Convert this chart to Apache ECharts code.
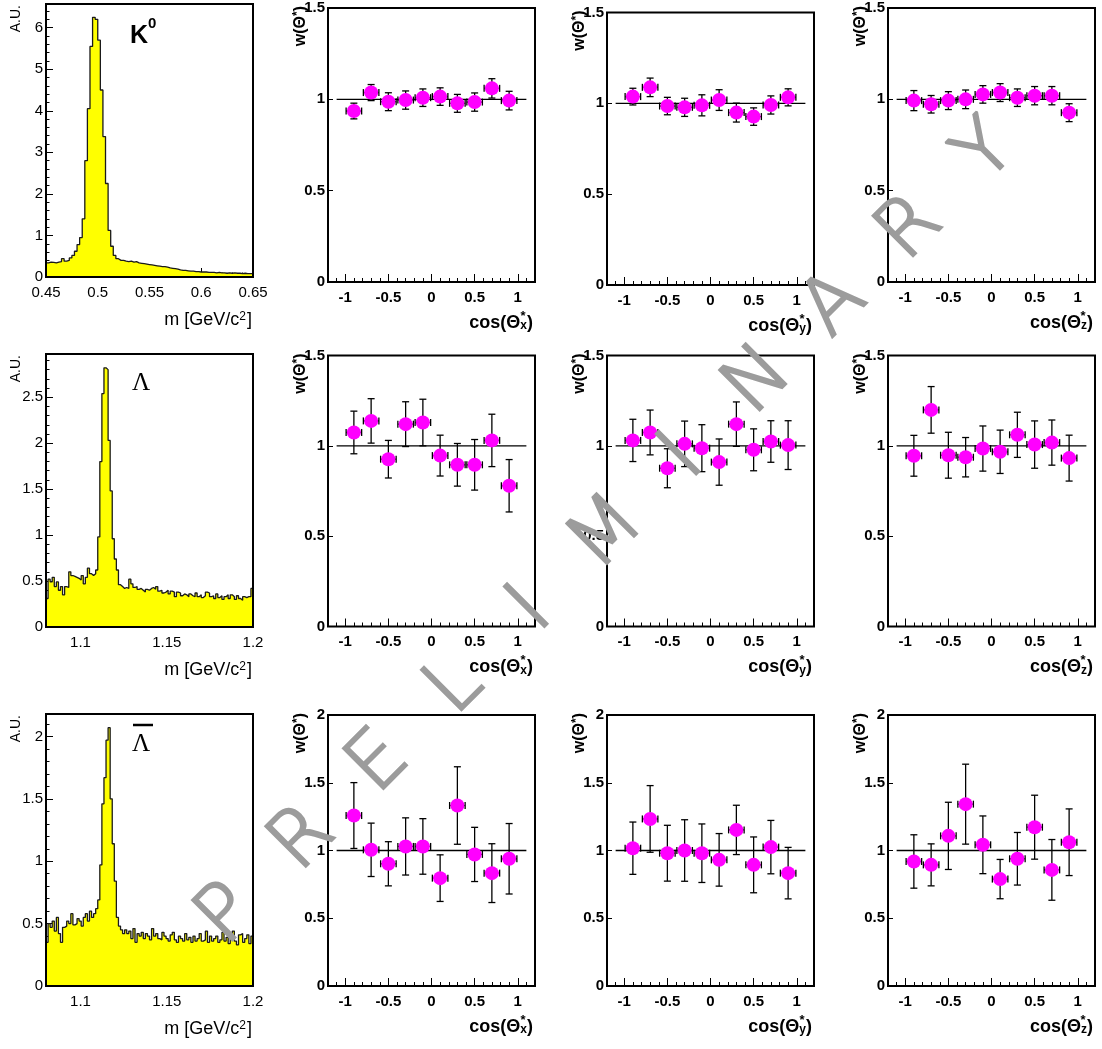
<!DOCTYPE html>
<html>
<head>
<meta charset="utf-8">
<script src="https://cdn.jsdelivr.net/npm/echarts@6/dist/echarts.min.js"></script>
<style>
  html, body { margin: 0; padding: 0; background: #fff; }
  #chart { width: 1102px; height: 1049px; }
</style>
</head>
<body>
<div id="chart"></div>
<script>
// ---------- invariant-mass spectra (arbitrary units per bin) ----------
const k0MassRange = [0.45, 0.65];
const lambdaMassRange = [1.08, 1.2];

const k0Counts = [
  0.34,0.36,0.35,0.34,0.36,0.37,0.44,0.38,0.40,0.46,
  0.52,0.62,0.78,0.95,1.40,2.80,4.05,5.55,6.25,6.20,
  5.70,4.50,3.38,2.25,1.12,0.74,0.52,0.44,0.40,0.40,
  0.38,0.37,0.38,0.36,0.37,0.34,0.33,0.32,0.31,0.30,
  0.29,0.28,0.27,0.26,0.25,0.25,0.24,0.22,0.21,0.20,
  0.19,0.17,0.16,0.16,0.15,0.14,0.14,0.13,0.13,0.12,
  0.12,0.12,0.11,0.11,0.11,0.10,0.11,0.10,0.10,0.09,
  0.10,0.09,0.10,0.09,0.09,0.08,0.09,0.08,0.08,0.08
];

const lambdaCounts = [
  0.31,0.52,0.49,0.54,0.44,0.49,0.40,0.44,0.35,0.44,
  0.43,0.60,0.56,0.55,0.54,0.53,0.51,0.56,0.47,0.54,
  0.64,0.58,0.56,0.58,0.62,0.98,1.80,2.54,2.82,2.80,
  2.03,1.48,0.96,0.74,0.62,0.46,0.44,0.42,0.43,0.42,
  0.52,0.47,0.43,0.44,0.41,0.42,0.40,0.38,0.41,0.40,
  0.42,0.43,0.41,0.44,0.39,0.40,0.37,0.38,0.40,0.36,
  0.39,0.38,0.33,0.38,0.37,0.34,0.36,0.35,0.33,0.36,
  0.34,0.33,0.37,0.33,0.35,0.32,0.34,0.38,0.37,0.33,
  0.34,0.31,0.36,0.32,0.34,0.30,0.33,0.35,0.31,0.35,
  0.33,0.30,0.34,0.31,0.29,0.33,0.32,0.33,0.33,0.42
];

const antiLambdaCounts = [
  0.35,0.50,0.47,0.52,0.44,0.55,0.42,0.35,0.47,0.48,
  0.52,0.50,0.58,0.49,0.50,0.54,0.52,0.48,0.55,0.58,
  0.52,0.60,0.55,0.58,0.62,0.69,0.97,1.46,1.67,1.97,
  2.07,1.50,1.14,0.84,0.55,0.48,0.45,0.42,0.45,0.42,
  0.44,0.38,0.46,0.35,0.42,0.40,0.43,0.38,0.42,0.40,
  0.37,0.46,0.40,0.42,0.38,0.37,0.43,0.40,0.38,0.36,
  0.41,0.43,0.37,0.35,0.40,0.38,0.36,0.42,0.37,0.39,
  0.35,0.40,0.36,0.38,0.42,0.36,0.37,0.44,0.35,0.40,
  0.36,0.38,0.40,0.35,0.37,0.43,0.36,0.39,0.34,0.40,
  0.44,0.36,0.33,0.41,0.42,0.35,0.38,0.41,0.34,0.40
];

// ---------- w(theta*) vs cos(theta*) : bin centres, values, errors ----------
const cosBinCenters = [-0.9,-0.7,-0.5,-0.3,-0.1,0.1,0.3,0.5,0.7,0.9];

const wK0x = [0.936,1.037,0.987,0.996,1.009,1.015,0.978,0.985,1.060,0.993];
const eK0x = [0.043,0.044,0.049,0.050,0.048,0.048,0.049,0.050,0.053,0.051];
const wK0y = [1.037,1.088,0.985,0.978,0.989,1.018,0.949,0.927,0.991,1.033];
const eK0y = [0.046,0.051,0.048,0.050,0.058,0.057,0.052,0.048,0.050,0.047];
const wK0z = [0.993,0.973,0.993,1.000,1.027,1.037,1.009,1.020,1.020,0.927];
const eK0z = [0.055,0.048,0.049,0.051,0.048,0.049,0.048,0.050,0.050,0.049];

const wLx = [1.074,1.138,0.926,1.120,1.129,0.946,0.895,0.895,1.030,0.779];
const eLx = [0.118,0.123,0.104,0.124,0.129,0.113,0.118,0.140,0.145,0.145];
const wLy = [1.030,1.074,0.876,1.011,0.987,0.910,1.120,0.978,1.024,1.004];
const eLy = [0.117,0.124,0.108,0.126,0.130,0.128,0.123,0.116,0.115,0.135];
const wLz = [0.945,1.199,0.948,0.937,0.985,0.967,1.061,1.007,1.018,0.932];
const eLz = [0.113,0.129,0.127,0.109,0.125,0.120,0.125,0.131,0.125,0.127];

const wAx = [1.258,1.005,0.902,1.030,1.030,0.796,1.332,0.971,0.833,0.939];
const eAx = [0.243,0.197,0.163,0.211,0.205,0.172,0.286,0.200,0.217,0.260];
const wAy = [1.017,1.233,0.980,1.000,0.980,0.931,1.152,0.894,1.025,0.833];
const eAy = [0.193,0.246,0.206,0.227,0.216,0.194,0.182,0.206,0.197,0.190];
const wAz = [0.919,0.894,1.108,1.342,1.042,0.789,0.939,1.172,0.857,1.061];
const eAz = [0.197,0.155,0.248,0.295,0.213,0.145,0.194,0.236,0.224,0.246];

// ---------- tick labels ----------
const cosTickLabels = [-1, -0.5, 0, 0.5, 1];
const wTickLabels = [0, 0.5, 1, 1.5];
const wTickLabelsWide = [0, 0.5, 1, 1.5, 2];
const k0MassTickLabels = [0.45, 0.5, 0.55, 0.6, 0.65];
const lambdaMassTickLabels = [1.1, 1.15, 1.2];
const k0YTickLabels = [0, 1, 2, 3, 4, 5, 6];
const lambdaYTickLabels = [0, 0.5, 1, 1.5, 2, 2.5];
const antiLambdaYTickLabels = [0, 0.5, 1, 1.5, 2];

// ---------- layout ----------
const FONT = "'Liberation Sans', Arial, Helvetica, sans-serif";
const frames = [
  [{l:46,t:4,w:207,h:273},   {l:328,t:8,w:207,h:274},     {l:607,t:12.5,w:207,h:272.5}, {l:888,t:8,w:207,h:274}],
  [{l:46,t:354,w:207,h:273}, {l:328,t:355.5,w:207,h:271}, {l:607,t:355.5,w:207,h:271},  {l:888,t:355.5,w:207,h:271}],
  [{l:46,t:714,w:207,h:272}, {l:328,t:715,w:207,h:271},   {l:607,t:715,w:207,h:271},    {l:888,t:715,w:207,h:271}]
];

const rows = [
  { counts: k0Counts, range: k0MassRange, massTicks: k0MassTickLabels, massMinor: 0.01,
    yMax: 6.57, yTicks: k0YTickLabels, yMinor: 0.2, wMax: 1.5, wTicks: wTickLabels,
    w: [[wK0x, eK0x], [wK0y, eK0y], [wK0z, eK0z]] },
  { counts: lambdaCounts, range: lambdaMassRange, massTicks: lambdaMassTickLabels, massMinor: 0.01,
    yMax: 2.97, yTicks: lambdaYTickLabels, yMinor: 0.1, wMax: 1.5, wTicks: wTickLabels,
    w: [[wLx, eLx], [wLy, eLy], [wLz, eLz]] },
  { counts: antiLambdaCounts, range: lambdaMassRange, massTicks: lambdaMassTickLabels, massMinor: 0.01,
    yMax: 2.18, yTicks: antiLambdaYTickLabels, yMinor: 0.1, wMax: 2, wTicks: wTickLabelsWide,
    w: [[wAx, eAx], [wAy, eAy], [wAz, eAz]] }
];
const axisLetters = ['x', 'y', 'z'];

function stepsBetween(a, b, step) {
  const out = [];
  const n = Math.floor((b - a) / step + 1e-6);
  for (let i = 0; i <= n; i++) out.push(+(a + i * step).toFixed(6));
  return out;
}

function histPoints(counts, range) {
  const bw = (range[1] - range[0]) / counts.length;
  const pts = counts.map((v, i) => [range[0] + i * bw, v]);
  pts.push([range[1], counts[counts.length - 1]]);
  return pts;
}

const ERR_HALF_X = 0.09;
function renderErrorBars(params, api) {
  const x = api.value(0), y = api.value(1), e = api.value(2);
  const c = api.coord([x, y]);
  const hi = api.coord([x, y + e]);
  const lo = api.coord([x, y - e]);
  const l = api.coord([x - ERR_HALF_X, y]);
  const r = api.coord([x + ERR_HALF_X, y]);
  const cap = 3.5;
  const st = { stroke: '#000', lineWidth: 1.3 };
  const L = (x1, y1, x2, y2) => ({ type: 'line', shape: { x1, y1, x2, y2 }, style: st });
  return {
    type: 'group',
    children: [
      L(c[0], hi[1], c[0], lo[1]),
      L(c[0] - cap, hi[1], c[0] + cap, hi[1]),
      L(c[0] - cap, lo[1], c[0] + cap, lo[1]),
      L(l[0], c[1], r[0], c[1]),
      L(l[0], c[1] - cap, l[0], c[1] + cap),
      L(r[0], c[1] - cap, r[0], c[1] + cap)
    ]
  };
}

const grids = [], xAxes = [], yAxes = [], series = [], graphics = [];
const tickLine = { color: '#000', width: 1 };
const noLine = { show: false, onZero: false };

function addAxes(p, xr, xMajor, xMinor, xLen, xMinLen, yr, yMajor, yMinor, yLen, weight) {
  const labelStyle = { color: '#000', fontFamily: FONT, fontSize: 15, fontWeight: weight };
  xAxes.push({
    type: 'value', gridIndex: p, position: 'bottom', min: xr[0], max: xr[1],
    axisLine: noLine, splitLine: { show: false },
    axisTick: { show: true, inside: true, length: xLen, customValues: xMajor, lineStyle: tickLine },
    axisLabel: { show: true, customValues: xMajor, margin: 8, ...labelStyle }
  });
  xAxes.push({
    type: 'value', gridIndex: p, position: 'bottom', min: xr[0], max: xr[1],
    axisLine: noLine, splitLine: { show: false }, axisLabel: { show: false },
    axisTick: { show: true, inside: true, length: xMinLen, customValues: xMinor, lineStyle: tickLine }
  });
  yAxes.push({
    type: 'value', gridIndex: p, position: 'left', min: yr[0], max: yr[1],
    axisLine: noLine, splitLine: { show: false },
    axisTick: { show: true, inside: true, length: yLen, customValues: yMajor, lineStyle: tickLine },
    axisLabel: { show: true, customValues: yMajor, margin: 3, ...labelStyle }
  });
  const hasMinor = yMinor.length > 0;
  yAxes.push({
    type: 'value', gridIndex: p, position: 'left', min: yr[0], max: yr[1], show: hasMinor,
    axisLine: noLine, splitLine: { show: false }, axisLabel: { show: false },
    axisTick: { show: hasMinor, inside: true, length: Math.max(2, yLen / 2), customValues: hasMinor ? yMinor : [yr[0]], lineStyle: tickLine }
  });
}

function text(x, y, str, opts) {
  graphics.push(Object.assign({
    type: 'text', x, y, z: 60, silent: true,
    style: Object.assign({ text: str, fill: '#000', fontFamily: FONT, fontSize: 15, align: 'left', verticalAlign: 'middle' }, opts.style || {})
  }, opts.rotation ? { rotation: opts.rotation } : {}));
}

let p = 0;
rows.forEach((row, ri) => {
  // ---- mass spectrum panel ----
  const f = frames[ri][0];
  grids.push({ left: f.l, top: f.t, width: f.w, height: f.h, show: true, z: 10,
               borderColor: '#000', borderWidth: 2, backgroundColor: 'transparent', containLabel: false });
  addAxes(p, row.range, row.massTicks, stepsBetween(row.range[0], row.range[1], row.massMinor), 9, 4.5,
          [0, row.yMax], row.yTicks, stepsBetween(0, row.yMax, row.yMinor), 7, 'normal');
  series.push({
    type: 'line', xAxisIndex: 2 * p, yAxisIndex: 2 * p, step: 'end', symbol: 'none', silent: true,
    data: histPoints(row.counts, row.range),
    lineStyle: { color: '#1a1a1a', width: 1.3 },
    areaStyle: { color: '#ffff00', opacity: 1 }, z: 2
  });
  text(16, f.t + 1, 'A.U.', { rotation: Math.PI / 2, style: { fontSize: 14, align: 'right' } });
  text(f.l + f.w - 1, f.t + f.h + 43, 'm [GeV/c{sup|2}]', {
    style: { fontSize: 18, align: 'right', rich: { sup: { fontSize: 12, fontFamily: FONT, verticalAlign: 'top', fill: '#000', padding: [0, 1, 6, 0] } } }
  });
  p++;

  // ---- w(theta*) panels ----
  row.w.forEach((pair, ci) => {
    const g = frames[ri][ci + 1];
    grids.push({ left: g.l, top: g.t, width: g.w, height: g.h, show: true, z: 10,
                 borderColor: '#000', borderWidth: 2, backgroundColor: 'transparent', containLabel: false });
    addAxes(p, [-1.2, 1.2], cosTickLabels, stepsBetween(-1.1, 1.1, 0.1), 8, 4,
            [0, row.wMax], row.wTicks, [], 5, 'bold');
    series.push({
      type: 'line', xAxisIndex: 2 * p, yAxisIndex: 2 * p, symbol: 'none', silent: true,
      data: [[-1.1, 1], [1.1, 1]], lineStyle: { color: '#000', width: 1.3 }, z: 2
    });
    series.push({
      type: 'custom', xAxisIndex: 2 * p, yAxisIndex: 2 * p, silent: true, clip: false,
      data: cosBinCenters.map((x, i) => [x, pair[0][i], pair[1][i]]),
      encode: { x: 0, y: 1 }, renderItem: renderErrorBars, z: 3
    });
    series.push({
      type: 'scatter', xAxisIndex: 2 * p, yAxisIndex: 2 * p, silent: true,
      data: cosBinCenters.map((x, i) => [x, pair[0][i]]),
      symbol: 'circle', symbolSize: 14, itemStyle: { color: '#ff00ff', opacity: 1 }, z: 4
    });
    text(g.l - 27, g.t - 2, 'w(Θ{sup|*})', {
      rotation: Math.PI / 2,
      style: { fontSize: 16, fontWeight: 'bold', align: 'right', rich: { sup: { fontSize: 12, fontWeight: 'bold', fontFamily: FONT, verticalAlign: 'top', fill: '#000', padding: [0, 0, 6, 0] } } }
    });
    const rx = g.l + g.w - 2, cy = g.t + g.h + 41;
    text(rx, cy, 'cos(Θ{sub|' + axisLetters[ci] + '})', {
      style: { fontSize: 18, fontWeight: 'bold', align: 'right', rich: { sub: { fontSize: 12, fontWeight: 'bold', fontFamily: FONT, verticalAlign: 'bottom', fill: '#000' } } }
    });
    text(rx - 10, cy - 7, '*', { style: { fontSize: 13, fontWeight: 'bold', align: 'center' } });
    p++;
  });
});

// particle labels
text(130, 36, 'K', { style: { fontSize: 25, fontWeight: 'bold' } });
text(148, 24, '0', { style: { fontSize: 15, fontWeight: 'bold' } });
text(132, 383, 'Λ', { style: { fontSize: 25, fontFamily: "'Liberation Serif', 'Times New Roman', serif" } });
text(132, 744, 'Λ', { style: { fontSize: 25, fontFamily: "'Liberation Serif', 'Times New Roman', serif" } });
graphics.push({ type: 'line', z: 60, silent: true, shape: { x1: 133, y1: 725, x2: 153, y2: 725 }, style: { stroke: '#000', lineWidth: 2.5 } });

// diagonal watermark
const wmStart = [228, 916], wmEnd = [987, 153];
const wmWord = 'PRELIMINARY'.split('');
wmWord.forEach((ch, i) => {
  const t = i / (wmWord.length - 1);
  graphics.push({
    type: 'text', z: 100, silent: true,
    x: wmStart[0] + (wmEnd[0] - wmStart[0]) * t,
    y: wmStart[1] + (wmEnd[1] - wmStart[1]) * t,
    rotation: Math.PI / 4,
    style: { text: ch, fill: '#9c9c9c', stroke: '#9c9c9c', lineWidth: 2.6,
             fontFamily: "'DejaVu Sans', " + FONT, fontWeight: 200, fontSize: 78, align: 'center', verticalAlign: 'middle' }
  });
});

const chart = echarts.init(document.getElementById('chart'), null, { renderer: 'canvas' });
chart.setOption({
  animation: false,
  backgroundColor: '#fff',
  grid: grids,
  xAxis: xAxes,
  yAxis: yAxes,
  series: series,
  graphic: graphics
});
</script>
</body>
</html>
